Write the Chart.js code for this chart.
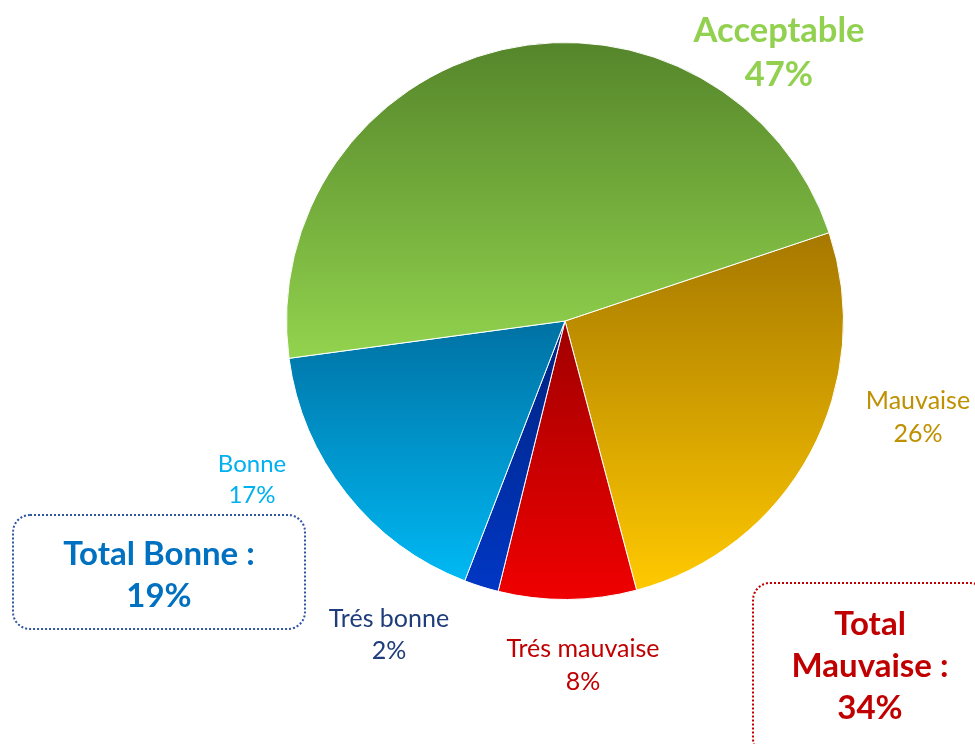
<!DOCTYPE html>
<html>
<head>
<meta charset="utf-8">
<script src="https://cdn.jsdelivr.net/npm/chart.js@4"></script>
<style>
  html, body { margin: 0; padding: 0; background: #fff; }
  #wrap { position: relative; width: 975px; height: 744px; overflow: hidden; }
  canvas { position: absolute; left: 0; top: 0; }
  .lbl { position: absolute; text-align: center; font-family: Lato, "Open Sans", sans-serif; white-space: nowrap; transform: translateX(-50%); }
  .box { position: absolute; border-radius: 18px; box-sizing: border-box; }
</style>
</head>
<body>
<div id="wrap">
  <canvas id="pie" width="975" height="744"></canvas>
</div>
<script>
const categories = ['Mauvaise', 'Trés mauvaise', 'Trés bonne', 'Bonne', 'Acceptable'];
const values = [26, 8, 2, 17, 47];
const topColors = ['#a67800', '#a00000', '#00237f', '#0071a3', '#55852a'];
const bottomColors = ['#ffc900', '#f00000', '#0037c4', '#00b9f4', '#92d34e'];
const textColors = ['#bf9000', '#c00000', '#1f3d7a', '#00b0f0', '#92d050'];
const totals = [
  { text: 'Total Bonne :', value: '19%', color: '#0070c0', border: '#2f55a4' },
  { text: 'Total\nMauvaise :', value: '34%', color: '#c00000', border: '#c00000' }
];
const rotationDeg = 71.5;

// vertical gradient over each slice's own extent
function sliceGradient(context) {
  const chart = context.chart;
  const area = chart.chartArea;
  if (!area) return bottomColors[context.dataIndex];
  const cx = (area.left + area.right) / 2;
  const cy = (area.top + area.bottom) / 2;
  const r = Math.min(area.right - area.left, area.bottom - area.top) / 2;
  const total = values.reduce((a, b) => a + b, 0);
  let start = -Math.PI / 2 + rotationDeg * Math.PI / 180;
  for (let i = 0; i < context.dataIndex; i++) start += values[i] / total * 2 * Math.PI;
  const end = start + values[context.dataIndex] / total * 2 * Math.PI;
  const ys = [cy, cy + r * Math.sin(start), cy + r * Math.sin(end)];
  for (let k = -4; k <= 4; k++) {
    const a = Math.PI / 2 + k * Math.PI;
    if (a > start && a < end) ys.push(cy + r * Math.sin(a));
  }
  const g = chart.ctx.createLinearGradient(0, Math.min(...ys), 0, Math.max(...ys));
  g.addColorStop(0, topColors[context.dataIndex]);
  g.addColorStop(1, bottomColors[context.dataIndex]);
  return g;
}

new Chart(document.getElementById('pie'), {
  type: 'pie',
  data: {
    labels: categories,
    datasets: [{
      data: values,
      backgroundColor: sliceGradient,
      borderColor: '#ffffff',
      borderWidth: 1
    }]
  },
  options: {
    responsive: false,
    animation: false,
    rotation: rotationDeg,
    layout: { padding: { left: 286, right: 131, top: 42, bottom: 144 } },
    plugins: { legend: { display: false }, tooltip: { enabled: false } }
  }
});

const wrap = document.getElementById('wrap');
function addText(html, x, y1, lh, size, bold, color) {
  const d = document.createElement('div');
  d.className = 'lbl';
  d.style.left = x + 'px';
  d.style.top = (y1 - lh / 2) + 'px';
  d.style.fontSize = size + 'px';
  d.style.lineHeight = lh + 'px';
  d.style.fontWeight = bold ? '700' : '400';
  d.style.color = color;
  d.innerHTML = html;
  wrap.appendChild(d);
}

// slice labels
const labelPos = [
  { x: 918, y: 399, lh: 33, size: 25, bold: false },
  { x: 583, y: 647, lh: 33, size: 25, bold: false },
  { x: 389, y: 617, lh: 32, size: 25, bold: false },
  { x: 252, y: 462, lh: 31, size: 24, bold: false },
  { x: 779, y: 29, lh: 44, size: 34.5, bold: true }
];
categories.forEach((c, i) => {
  const p = labelPos[i];
  addText(c + '<br>' + values[i] + '%', p.x, p.y, p.lh, p.size, p.bold, textColors[i]);
});

// total boxes
const boxPos = [
  { x: 12, y: 514, w: 294, h: 116, tx: 159, ty: 552 },
  { x: 752, y: 582, w: 236, h: 175, tx: 870, ty: 622 }
];
totals.forEach((t, i) => {
  const p = boxPos[i];
  const b = document.createElement('div');
  b.className = 'box';
  b.style.left = p.x + 'px';
  b.style.top = p.y + 'px';
  b.style.width = p.w + 'px';
  b.style.height = p.h + 'px';
  b.style.border = '2.5px dotted ' + t.border;
  wrap.appendChild(b);
  addText(t.text.replace('\n', '<br>') + '<br>' + t.value, p.tx, p.ty, 42, 33, true, t.color);
});
</script>
</body>
</html>
